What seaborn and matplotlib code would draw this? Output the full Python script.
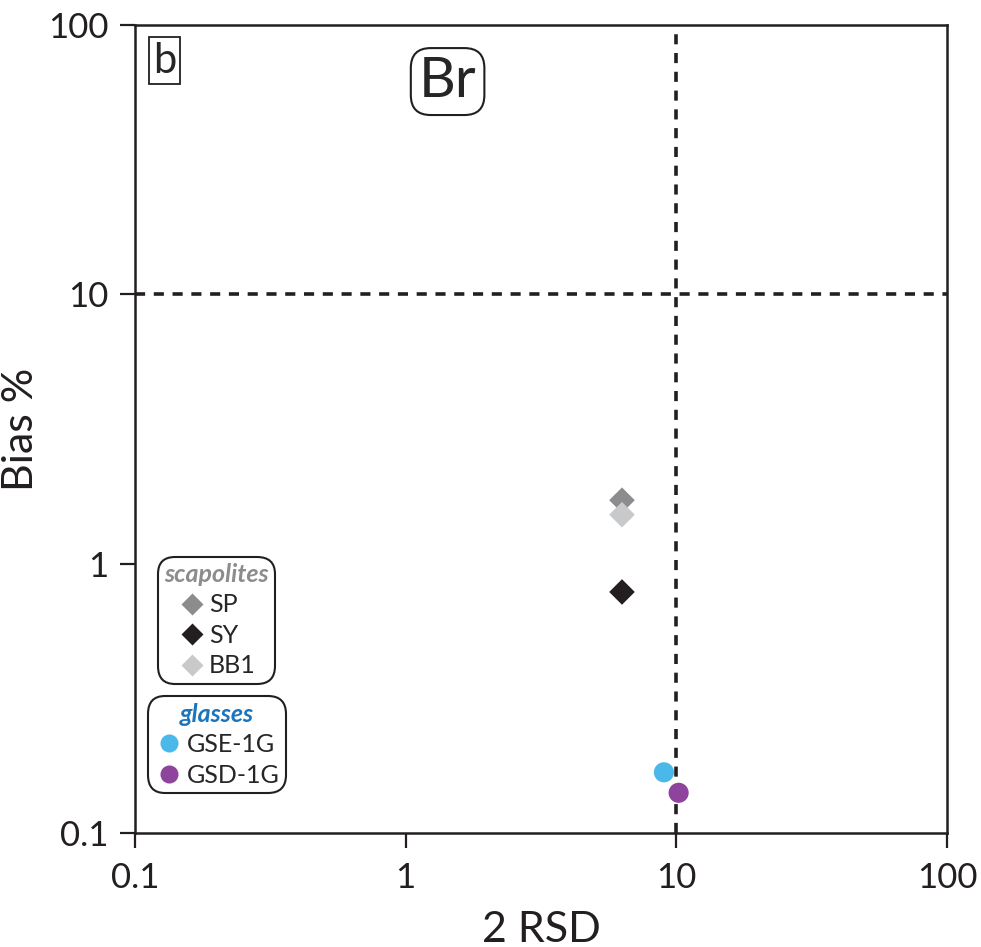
import matplotlib
matplotlib.use("Agg")
import matplotlib.pyplot as plt
import seaborn as sns
import pandas as pd
from matplotlib.lines import Line2D

# ---- data ----
samples = ["SP", "SY", "BB1", "GSE-1G", "GSD-1G"]
groups = ["scapolites", "scapolites", "scapolites", "glasses", "glasses"]
rsd2 = [6.3, 6.3, 6.3, 9.0, 10.2]
bias = [1.72, 0.785, 1.52, 0.168, 0.141]
tick_vals = [0.1, 1, 10, 100]
tick_labels = ["0.1", "1", "10", "100"]
colors = ["#8c8c8e", "#231f20", "#c8c9cb", "#4ab8e8", "#8e449c"]
markers = ["D", "D", "D", "o", "o"]

sns.set_style("ticks")
plt.rcParams["font.family"] = ["Lato", "DejaVu Sans"]

df = pd.DataFrame({"sample": samples, "group": groups, "rsd": rsd2, "bias": bias})

fig = plt.figure(figsize=(9.81, 9.47), dpi=100)
ax = fig.add_axes([0.1376, 0.1204, 0.8277, 0.8532])

order = ["SP", "BB1", "SY", "GSE-1G", "GSD-1G"]
for s in order:
    i = samples.index(s)
    sub = df[df["sample"] == s]
    sns.scatterplot(data=sub, x="rsd", y="bias", ax=ax, color=colors[i],
                    marker=markers[i], s=170 if markers[i] == "D" else 210,
                    edgecolor="none", legend=False, zorder=3)

ax.set_xscale("log")
ax.set_yscale("log")
ax.set_xlim(0.1, 100)
ax.set_ylim(0.1, 100)
ax.set_xticks(tick_vals)
ax.set_xticklabels(tick_labels)
ax.set_yticks(tick_vals)
ax.set_yticklabels(tick_labels)
ax.minorticks_off()
ax.tick_params(axis="both", direction="out", length=11, width=1.6, labelsize=25, colors="#231f20")
ax.tick_params(axis="x", pad=10)
ax.tick_params(axis="y", pad=8)
for sp in ax.spines.values():
    sp.set_linewidth(1.8)
    sp.set_color("#231f20")

ax.axvline(10, color="#231f20", lw=2.6, ls=(0, (2.8, 2.4)), zorder=2)
ax.axhline(10, color="#231f20", lw=2.6, ls=(0, (2.8, 2.4)), zorder=2)

ax.set_xlabel("2 RSD", fontsize=31, labelpad=12, color="#231f20")
ax.set_ylabel("Bias %", fontsize=31, labelpad=6, color="#231f20")

ax.text(0.0365, 0.956, "b", transform=ax.transAxes, fontsize=30, ha="center", va="center",
        bbox=dict(boxstyle="square,pad=0.1", fc="white", ec="#231f20", lw=1.3))
ax.text(0.385, 0.93, "Br", transform=ax.transAxes, fontsize=41, ha="center", va="center",
        bbox=dict(boxstyle="round,pad=0.14,rounding_size=0.35", fc="white", ec="#231f20", lw=1.5))

def style_legend(leg, title_color):
    t = leg.get_title()
    t.set_fontsize(18)
    t.set_fontstyle("italic")
    t.set_fontweight("bold")
    t.set_color(title_color)
    fr = leg.get_frame()
    fr.set_linewidth(1.5)
    fr.set_boxstyle("round,pad=0.1,rounding_size=0.7")

scap_h = [Line2D([], [], ls="none", marker="D", ms=11, color=colors[i], mec="none") for i in range(3)]
leg1 = ax.legend(scap_h, samples[:3], title="scapolites", loc="upper left",
                 bbox_to_anchor=(0.031, 0.339), fontsize=18, handletextpad=0.1,
                 handlelength=1.2, borderpad=0.15, labelspacing=0.3, frameon=True,
                 fancybox=True, edgecolor="#231f20", framealpha=1, borderaxespad=0)
style_legend(leg1, "#8c8c8e")
ax.add_artist(leg1)

gl_h = [Line2D([], [], ls="none", marker="o", ms=13, color=colors[i], mec="none") for i in range(3, 5)]
leg2 = ax.legend(gl_h, samples[3:], title="glasses", loc="upper left",
                 bbox_to_anchor=(0.019, 0.166), fontsize=18, handletextpad=0.1,
                 handlelength=1.2, borderpad=0.15, labelspacing=0.3, frameon=True,
                 fancybox=True, edgecolor="#231f20", framealpha=1, borderaxespad=0)
style_legend(leg2, "#1c75bc")

fig.savefig("out.png", dpi=100)
